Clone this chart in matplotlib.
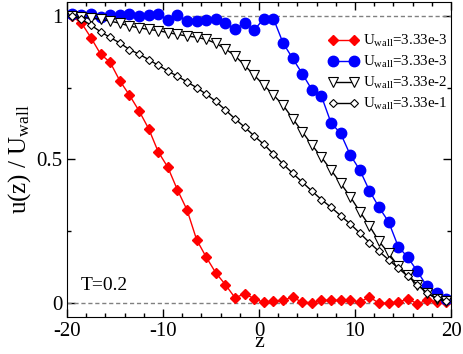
import numpy as np
import matplotlib.pyplot as plt
from matplotlib.ticker import MultipleLocator

plt.rcParams['font.family'] = ['Liberation Serif', 'DejaVu Serif']
plt.rcParams['mathtext.fontset'] = 'custom'
plt.rcParams['mathtext.rm'] = 'Liberation Serif'
plt.rcParams['mathtext.it'] = 'Liberation Serif'

# slab positions (bin centres)
z = np.arange(-19.5, 20, 1.0)

u_red = [1.0, 0.977, 0.925, 0.868, 0.839, 0.775, 0.725, 0.67, 0.608, 0.527,
         0.473, 0.394, 0.324, 0.22, 0.159, 0.104, 0.063, 0.017, 0.031, 0.014,
         0.001, 0.006, 0.008, 0.02, 0.001, 0.0, 0.008, 0.008, 0.008, 0.009,
         0.002, 0.02, -0.002, -0.002, 0.003, 0.012, -0.003, 0.008, 0.004, 0.004]
u_blue = [1.009, 1.003, 1.009, 0.998, 1.003, 1.003, 1.007, 1.0, 1.003, 1.009,
          0.986, 1.003, 0.984, 0.984, 0.988, 0.992, 0.975, 0.954, 0.977, 0.952,
          0.992, 0.992, 0.907, 0.853, 0.8, 0.744, 0.721, 0.628, 0.591, 0.516,
          0.463, 0.391, 0.333, 0.282, 0.196, 0.158, 0.109, 0.057, 0.034, 0.013]
u_tri = [1.0, 0.996, 0.993, 0.99, 0.983, 0.976, 0.966, 0.96, 0.954, 0.95,
         0.943, 0.937, 0.931, 0.927, 0.919, 0.906, 0.886, 0.862, 0.829, 0.794,
         0.76, 0.725, 0.69, 0.643, 0.597, 0.551, 0.508, 0.463, 0.417, 0.37,
         0.318, 0.268, 0.214, 0.173, 0.127, 0.098, 0.063, 0.034, 0.013, 0.005]
u_dia = [1.0, 0.99, 0.969, 0.946, 0.926, 0.907, 0.884, 0.868, 0.849, 0.829,
         0.809, 0.791, 0.771, 0.751, 0.728, 0.703, 0.673, 0.642, 0.613, 0.582,
         0.553, 0.519, 0.484, 0.452, 0.421, 0.39, 0.36, 0.333, 0.304, 0.275,
         0.243, 0.21, 0.179, 0.15, 0.121, 0.092, 0.063, 0.034, 0.016, 0.005]

labels = [r'U$_{\rm wall}$=3.33e-3', r'U$_{\rm wall}$=3.33e-3',
          r'U$_{\rm wall}$=3.33e-2', r'U$_{\rm wall}$=3.33e-1']

fig = plt.figure(figsize=(4.63, 3.54), dpi=100)
ax = fig.add_axes([0.1447, 0.1045, 0.8295, 0.8899])

ax.axhline(0, color='gray', ls='--', lw=1, dashes=(3, 2))
ax.axhline(1, color='gray', ls='--', lw=1, dashes=(3, 2))

ax.plot(z, u_red, color='red', marker='D', ms=4.8, lw=1, label=labels[0])
ax.plot(z, u_blue, color='blue', marker='o', ms=7.5, lw=1, label=labels[1])
ax.plot(z, u_tri, color='black', marker='v', ms=6.5, mfc='white', mew=0.8, lw=1, label=labels[2])
ax.plot(z, u_dia, color='black', marker='D', ms=3.8, mfc='white', mew=0.8, lw=1, label=labels[3])

ax.set_xlim(-20, 20)
ax.set_ylim(-0.05, 1.05)
ax.xaxis.set_major_locator(MultipleLocator(10))
ax.xaxis.set_minor_locator(MultipleLocator(2))
ax.yaxis.set_major_locator(MultipleLocator(0.5))
ax.yaxis.set_minor_locator(MultipleLocator(0.25))
ax.set_xticks([-20, -10, 0, 10, 20], ['-20', '-10', '0', '10', '20'])
ax.set_yticks([0, 0.5, 1], ['0', '0.5', '1'])
ax.tick_params(which='both', direction='in', top=True, right=True, labelsize=15)
ax.tick_params(which='major', length=6, width=1)
ax.tick_params(which='minor', length=3, width=1)

ax.set_xlabel('z', fontsize=16)
ax.xaxis.set_label_coords(0.5, -0.112)
ax.xaxis.label.set_verticalalignment('bottom')
ax.set_ylabel(r'u(z) / U$_{\rm wall}$', fontsize=18, labelpad=2)
ax.text(-18.6, 0.045, 'T=0.2', fontsize=14)

ax.legend(loc='upper right', bbox_to_anchor=(0.992, 0.902), frameon=False, fontsize=10.8,
          numpoints=2, handlelength=2.0, handletextpad=0.35, labelspacing=0.33,
          borderaxespad=0, borderpad=0, markerscale=1.0)

fig.savefig('out.png', dpi=100)
